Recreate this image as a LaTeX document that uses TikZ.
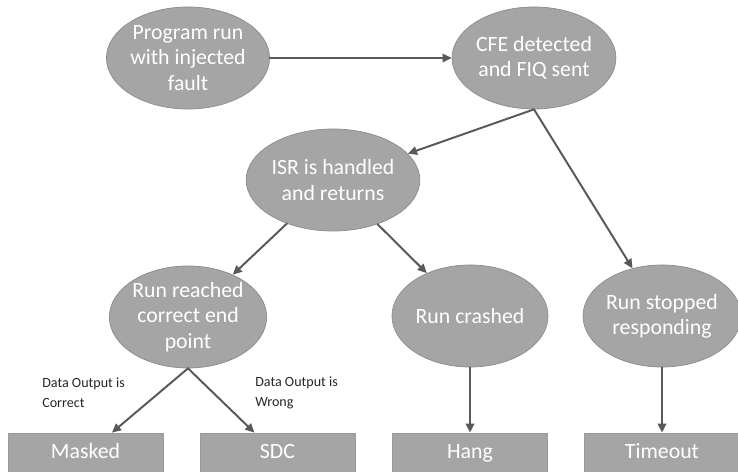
\documentclass[tikz,border=0pt]{standalone}
\usepackage{fontspec}
\setmainfont{Carlito}
\usetikzlibrary{arrows.meta,shapes.geometric}
\definecolor{stategray}{RGB}{165,165,165}
\definecolor{edgegray}{RGB}{89,89,89}

\begin{document}
\begin{tikzpicture}[x=0.025cm,y=-0.025cm,line cap=round,line join=round,
  state/.style={ellipse,fill=stategray,draw=black!45,line width=0.5pt,inner sep=0pt,
    minimum width=3.9cm,minimum height=2.55cm,align=center,text=white,
    font=\fontsize{15.5}{18}\selectfont},
  outcome/.style={rectangle,fill=stategray,draw=black!40,line width=0.5pt,inner sep=0pt,
    minimum width=3.875cm,minimum height=1.1cm,text=white,text height=1.6ex,text depth=0.45ex,
    font=\fontsize{15.5}{18}\selectfont},
  flow/.style={-{Triangle[length=6.5pt,width=6pt]},edgegray,line width=1.4pt},
  note/.style={align=left,anchor=west,inner sep=0pt,text=black!85,
    font=\fontsize{10}{14}\selectfont}]
\clip (0,0) rectangle (738,472);
\useasboundingbox (0,0) rectangle (738,472);
% states
\node[state] (inject) at (188,58) {Program run\\with injected\\fault};
\node[state] (cfe) at (534,58) {CFE detected\\and FIQ sent};
\node[state] (isr) at (333,180) {ISR is handled\\and returns};
\node[state] (reach) at (188,317) {Run reached\\correct end\\point};
\node[state] (crash) at (470,316) {Run crashed};
\node[state] (stop) at (662,316) {Run stopped\\responding};
% outcomes
\node[outcome] (masked) at (85.5,455) {Masked};
\node[outcome] (sdc) at (277.5,455) {SDC};
\node[outcome] (hang) at (470,455) {Hang};
\node[outcome] (timeout) at (662,455) {Timeout};
% edge notes
\node[note] (okout) at (42,393) {Data Output is\\Correct};
\node[note] (badout) at (255,393) {Data Output is\\Wrong};
% connectors
\draw[flow] (inject) -- (cfe);
\draw[flow] (cfe.south) -- (isr);
\draw[flow] (cfe.south) -- (stop);
\draw[flow] (isr) -- (reach);
\draw[flow] (isr) -- (crash);
\draw[flow] (reach.south) -- (masked);
\draw[flow] (reach.south) -- (sdc);
\draw[flow] (crash) -- (hang);
\draw[flow] (stop) -- (timeout);
\end{tikzpicture}
\end{document}
